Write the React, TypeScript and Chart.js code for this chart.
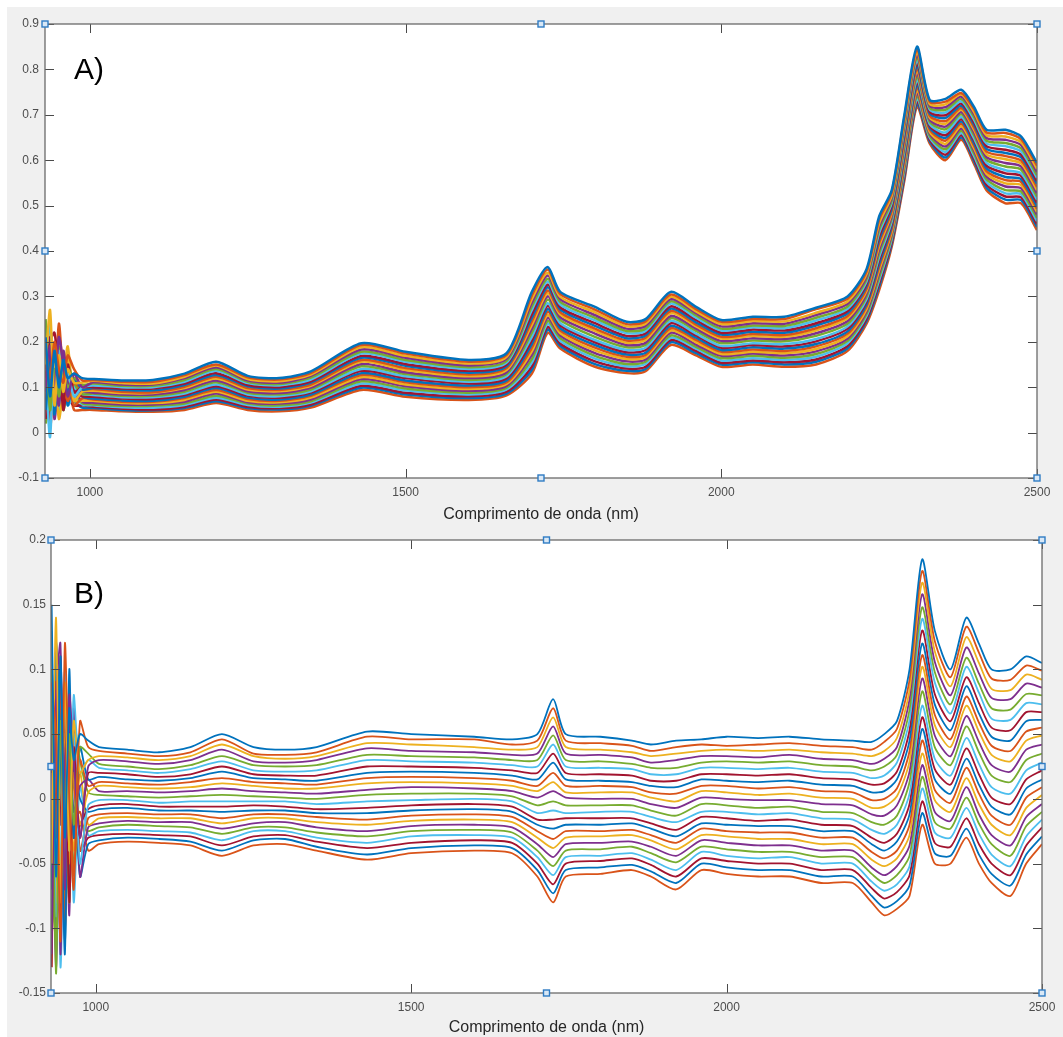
import React, { useEffect, useRef } from "react";
import { Chart, registerables } from "chart.js";

Chart.register(...registerables);

const FONT = '"Liberation Sans", Arial, Helvetica, sans-serif';
const X_TITLE = "Comprimento de onda (nm)";
const X_MIN = 929;
const X_MAX = 2500;
const X_TICKS = [1000, 1500, 2000, 2500];
const A_Y_TICKS = [-0.1, 0, 0.1, 0.2, 0.3, 0.4, 0.5, 0.6, 0.7, 0.8, 0.9];
const B_Y_TICKS = [-0.15, -0.1, -0.05, 0, 0.05, 0.1, 0.15, 0.2];
const MATLAB_COLORS = ["#0072BD", "#D95319", "#EDB120", "#7E2F8E", "#77AC30", "#4DBEEE", "#A2142F"];

// wavelengths (nm) at which the spectra were read
const WAVELENGTH = [
  930, 937, 944, 951, 958, 965, 975, 988,
  1005, 1050, 1100, 1150, 1200, 1250, 1300, 1350,
  1430, 1500, 1600, 1660, 1700, 1725, 1745, 1800,
  1850, 1880, 1920, 1960, 2000, 2050, 2100, 2150,
  2200, 2230, 2250, 2270, 2290, 2310, 2330, 2355,
  2380, 2400, 2420, 2450, 2475, 2500,
];

// Panel A: raw absorbance spectra
const A0 = [0.21,0.08,0.18,0.10,0.16,0.12,0.13,0.12, 0.118,0.115,0.116,0.130,0.156,0.125,0.120,0.135, 0.197,0.178,0.160,0.175,0.310,0.365,0.310,0.277, 0.244,0.250,0.310,0.277,0.248,0.255,0.255,0.275, 0.300,0.360,0.476,0.534,0.700,0.850,0.733,0.735, 0.755,0.718,0.667,0.667,0.652,0.594];
const AH0 = [0.19,0.12,0.20,0.14,0.11,0.17,0.14,0.115, 0.116,0.112,0.112,0.127,0.150,0.122,0.117,0.131, 0.193,0.174,0.156,0.171,0.302,0.359,0.305,0.271, 0.239,0.245,0.304,0.272,0.244,0.250,0.250,0.272, 0.295,0.355,0.469,0.529,0.694,0.844,0.729,0.729, 0.748,0.713,0.661,0.660,0.646,0.588];
const A1 = [0.15,0.27,0.06,0.17,0.09,0.14,0.11,0.11, 0.114,0.109,0.108,0.123,0.148,0.118,0.113,0.128, 0.188,0.169,0.152,0.167,0.294,0.352,0.299,0.265, 0.234,0.240,0.299,0.267,0.239,0.246,0.245,0.264, 0.289,0.349,0.461,0.523,0.687,0.838,0.724,0.723, 0.745,0.707,0.655,0.652,0.639,0.581];
const AH1 = [0.10,0.19,0.09,0.21,0.15,0.08,0.13,0.10, 0.111,0.106,0.106,0.120,0.144,0.115,0.110,0.125, 0.183,0.165,0.148,0.163,0.286,0.346,0.294,0.259, 0.229,0.235,0.294,0.263,0.234,0.241,0.240,0.259, 0.284,0.344,0.454,0.518,0.681,0.832,0.720,0.717, 0.740,0.702,0.649,0.645,0.633,0.574];
const A2 = [0.25,0.05,0.14,0.08,0.13,0.10,0.12,0.105, 0.108,0.103,0.103,0.116,0.140,0.112,0.107,0.121, 0.178,0.160,0.144,0.158,0.278,0.339,0.288,0.253, 0.224,0.229,0.289,0.258,0.229,0.236,0.235,0.253, 0.278,0.338,0.447,0.512,0.674,0.826,0.716,0.711, 0.735,0.696,0.643,0.638,0.626,0.567];
const AH2 = [0.17,0.24,0.11,0.18,0.10,0.13,0.08,0.10, 0.104,0.100,0.100,0.112,0.136,0.109,0.104,0.117, 0.174,0.156,0.140,0.154,0.270,0.333,0.282,0.247, 0.219,0.224,0.284,0.253,0.225,0.232,0.230,0.247, 0.273,0.333,0.440,0.507,0.668,0.820,0.712,0.705, 0.730,0.690,0.637,0.631,0.619,0.561];
const A3 = [0.12,0.20,0.22,0.13,0.07,0.15,0.09,0.10, 0.100,0.097,0.097,0.108,0.131,0.105,0.100,0.113, 0.169,0.151,0.136,0.150,0.261,0.326,0.276,0.241, 0.213,0.219,0.278,0.248,0.220,0.227,0.225,0.241, 0.268,0.328,0.432,0.501,0.661,0.814,0.707,0.699, 0.725,0.684,0.631,0.623,0.612,0.554];
const AH3 = [0.05,0.15,0.17,0.10,0.16,0.09,0.12,0.095, 0.098,0.094,0.093,0.105,0.127,0.102,0.097,0.110, 0.165,0.147,0.132,0.146,0.253,0.320,0.271,0.235, 0.208,0.214,0.273,0.243,0.216,0.222,0.220,0.236, 0.263,0.323,0.425,0.495,0.655,0.808,0.703,0.693, 0.720,0.679,0.625,0.616,0.606,0.548];
const A4 = [0.18,0.10,0.09,0.24,0.12,0.07,0.11,0.095, 0.096,0.090,0.089,0.101,0.123,0.098,0.094,0.106, 0.160,0.142,0.128,0.142,0.245,0.313,0.265,0.229, 0.203,0.209,0.268,0.238,0.211,0.217,0.215,0.230, 0.257,0.317,0.418,0.489,0.648,0.802,0.698,0.686, 0.715,0.673,0.619,0.609,0.599,0.541];
const AH4 = [0.22,0.06,0.15,0.13,0.09,0.16,0.07,0.09, 0.092,0.087,0.087,0.098,0.119,0.095,0.091,0.103, 0.156,0.138,0.124,0.138,0.237,0.307,0.260,0.224, 0.198,0.204,0.263,0.234,0.207,0.213,0.211,0.225, 0.252,0.312,0.411,0.484,0.642,0.797,0.694,0.680, 0.711,0.668,0.613,0.602,0.593,0.534];
const A5 = [0.09,0.17,0.12,0.06,0.18,0.11,0.08,0.09, 0.088,0.084,0.084,0.094,0.115,0.091,0.087,0.099, 0.151,0.133,0.120,0.133,0.229,0.300,0.254,0.218, 0.193,0.198,0.257,0.229,0.202,0.208,0.206,0.219, 0.246,0.306,0.403,0.478,0.635,0.791,0.690,0.674, 0.706,0.662,0.607,0.594,0.586,0.527];
const AH5 = [0.13,0.09,0.16,0.08,0.13,0.15,0.11,0.085, 0.086,0.081,0.081,0.090,0.111,0.088,0.084,0.095, 0.146,0.129,0.116,0.129,0.220,0.293,0.248,0.211, 0.188,0.193,0.252,0.224,0.197,0.203,0.201,0.213, 0.240,0.300,0.395,0.472,0.628,0.784,0.685,0.668, 0.701,0.656,0.601,0.586,0.579,0.520];
const A6 = [0.14,-0.01,0.19,0.11,0.08,0.13,0.10,0.085, 0.083,0.078,0.078,0.086,0.106,0.084,0.080,0.091, 0.140,0.124,0.112,0.124,0.211,0.285,0.241,0.204, 0.182,0.187,0.246,0.218,0.191,0.197,0.195,0.206, 0.234,0.294,0.387,0.466,0.621,0.777,0.680,0.661, 0.695,0.649,0.594,0.578,0.571,0.513];
const AH6 = [0.03,0.21,0.07,0.17,0.05,0.10,0.09,0.08, 0.079,0.075,0.074,0.083,0.102,0.081,0.077,0.088, 0.136,0.120,0.108,0.120,0.203,0.279,0.236,0.199, 0.177,0.182,0.241,0.214,0.187,0.193,0.190,0.201, 0.229,0.289,0.380,0.461,0.615,0.772,0.676,0.655, 0.690,0.644,0.588,0.571,0.565,0.506];
const A7 = [0.06,0.13,0.04,0.15,0.14,0.06,0.12,0.08, 0.075,0.071,0.070,0.079,0.098,0.077,0.073,0.084, 0.131,0.115,0.104,0.115,0.195,0.272,0.230,0.193, 0.172,0.176,0.235,0.209,0.182,0.188,0.185,0.195, 0.223,0.283,0.372,0.455,0.608,0.766,0.672,0.649, 0.685,0.638,0.582,0.563,0.558,0.499];
const AH7 = [0.13,0.01,0.12,0.08,0.17,0.12,0.06,0.075, 0.073,0.068,0.068,0.076,0.094,0.074,0.070,0.081, 0.127,0.111,0.100,0.111,0.187,0.266,0.225,0.187, 0.167,0.171,0.230,0.204,0.178,0.183,0.180,0.190, 0.218,0.278,0.365,0.449,0.602,0.760,0.668,0.643, 0.680,0.633,0.576,0.556,0.552,0.493];
const A8 = [0.11,0.22,0.16,0.03,0.10,0.19,0.07,0.07, 0.070,0.065,0.065,0.072,0.090,0.070,0.067,0.077, 0.122,0.106,0.096,0.107,0.179,0.259,0.219,0.181, 0.162,0.166,0.225,0.199,0.173,0.178,0.175,0.184, 0.212,0.272,0.358,0.443,0.595,0.754,0.663,0.636, 0.675,0.627,0.570,0.549,0.545,0.486];
const AH8 = [0.07,0.16,0.03,0.11,0.07,0.14,0.10,0.068, 0.066,0.062,0.062,0.068,0.086,0.067,0.064,0.073, 0.118,0.102,0.092,0.103,0.171,0.253,0.214,0.175, 0.157,0.161,0.220,0.194,0.169,0.174,0.170,0.179, 0.207,0.267,0.351,0.438,0.589,0.748,0.659,0.630, 0.670,0.622,0.564,0.542,0.538,0.480];
const A9 = [0.02,0.07,0.10,0.19,0.05,0.09,0.09,0.065, 0.062,0.059,0.059,0.064,0.081,0.064,0.060,0.069, 0.113,0.097,0.088,0.099,0.162,0.246,0.208,0.169, 0.151,0.156,0.214,0.189,0.164,0.169,0.165,0.173, 0.202,0.262,0.343,0.432,0.582,0.742,0.654,0.624, 0.665,0.616,0.558,0.534,0.531,0.473];
const AH9 = [0.12,0.09,0.18,0.05,0.12,0.06,0.08,0.062, 0.060,0.056,0.055,0.061,0.077,0.061,0.057,0.066, 0.108,0.093,0.084,0.095,0.154,0.240,0.202,0.163, 0.146,0.151,0.209,0.185,0.159,0.164,0.160,0.167, 0.197,0.257,0.336,0.427,0.576,0.736,0.650,0.618, 0.660,0.610,0.552,0.527,0.525,0.466];
const A10 = [0.16,0.03,0.13,0.09,0.15,0.08,0.06,0.06, 0.057,0.053,0.051,0.057,0.073,0.057,0.054,0.062, 0.103,0.088,0.080,0.090,0.146,0.233,0.196,0.157, 0.141,0.145,0.204,0.180,0.154,0.159,0.155,0.161, 0.191,0.251,0.329,0.421,0.569,0.730,0.646,0.612, 0.655,0.604,0.546,0.520,0.518,0.459];
const AH10 = [0.04,0.11,0.14,0.16,0.08,0.13,0.07,0.055, 0.054,0.050,0.049,0.054,0.069,0.054,0.051,0.059, 0.099,0.084,0.076,0.086,0.138,0.227,0.191,0.151, 0.136,0.140,0.199,0.175,0.150,0.155,0.150,0.156, 0.186,0.246,0.322,0.416,0.563,0.724,0.642,0.606, 0.650,0.599,0.540,0.513,0.512,0.453];
const A11 = [0.08,0.15,0.07,0.12,0.06,0.11,0.05,0.05, 0.050,0.047,0.046,0.050,0.065,0.050,0.047,0.055, 0.094,0.079,0.072,0.082,0.130,0.220,0.185,0.145, 0.131,0.135,0.193,0.170,0.145,0.150,0.145,0.150, 0.180,0.240,0.314,0.410,0.556,0.718,0.637,0.600, 0.645,0.593,0.534,0.505,0.505,0.446];

// Panel B: pre-processed spectra
const B0 = [0.15,-0.06,0.11,-0.03,0.07,0.03,0.05,0.045, 0.040,0.038,0.036,0.040,0.050,0.040,0.038,0.040, 0.052,0.050,0.048,0.046,0.050,0.077,0.050,0.048, 0.045,0.042,0.045,0.046,0.048,0.047,0.048,0.046, 0.045,0.044,0.050,0.060,0.100,0.185,0.130,0.100, 0.140,0.120,0.100,0.100,0.110,0.105];
const BH0 = [0.09,0.05,-0.11,0.12,0.00,-0.07,0.06,0.04, 0.037,0.035,0.033,0.036,0.046,0.035,0.034,0.036, 0.048,0.046,0.046,0.042,0.045,0.070,0.045,0.043, 0.041,0.037,0.040,0.042,0.041,0.042,0.043,0.041, 0.040,0.038,0.044,0.054,0.092,0.176,0.122,0.094, 0.133,0.113,0.093,0.092,0.103,0.099];
const B1 = [-0.05,0.14,-0.08,0.09,-0.04,0.06,0.02,0.03, 0.033,0.032,0.030,0.033,0.042,0.033,0.031,0.033, 0.043,0.042,0.040,0.038,0.040,0.063,0.040,0.038, 0.036,0.033,0.035,0.037,0.038,0.037,0.038,0.036, 0.035,0.033,0.037,0.047,0.084,0.167,0.114,0.087, 0.125,0.105,0.085,0.084,0.096,0.092];
const BH1 = [-0.12,0.08,0.12,-0.07,0.08,0.03,-0.03,0.025, 0.030,0.029,0.027,0.030,0.038,0.029,0.028,0.030, 0.039,0.037,0.036,0.034,0.035,0.056,0.035,0.034, 0.032,0.028,0.030,0.033,0.033,0.032,0.034,0.031, 0.030,0.027,0.031,0.040,0.077,0.158,0.106,0.080, 0.117,0.097,0.078,0.077,0.089,0.086];
const B2 = [0.10,-0.135,0.06,-0.06,0.05,-0.02,0.04,0.035, 0.027,0.025,0.023,0.026,0.033,0.026,0.025,0.026, 0.034,0.033,0.032,0.030,0.030,0.049,0.030,0.029, 0.027,0.024,0.024,0.028,0.029,0.028,0.029,0.026, 0.025,0.022,0.025,0.034,0.069,0.148,0.098,0.073, 0.109,0.089,0.070,0.069,0.081,0.080];
const BH2 = [0.13,-0.09,-0.05,0.10,-0.04,0.08,0.02,0.03, 0.024,0.022,0.020,0.023,0.029,0.022,0.021,0.022, 0.030,0.029,0.028,0.026,0.025,0.042,0.025,0.024, 0.023,0.019,0.019,0.024,0.024,0.023,0.024,0.021, 0.020,0.016,0.018,0.028,0.061,0.139,0.090,0.066, 0.102,0.082,0.062,0.061,0.074,0.073];
const B3 = [-0.13,0.09,-0.02,0.07,-0.08,0.04,-0.03,0.02, 0.020,0.019,0.017,0.019,0.025,0.019,0.018,0.018, 0.025,0.025,0.024,0.022,0.020,0.035,0.020,0.019, 0.018,0.014,0.014,0.019,0.019,0.018,0.019,0.016, 0.015,0.011,0.012,0.021,0.053,0.130,0.081,0.060, 0.094,0.074,0.055,0.053,0.067,0.067];
const BH3 = [-0.07,0.12,0.04,-0.12,0.10,-0.03,0.04,0.015, 0.017,0.015,0.014,0.016,0.021,0.016,0.015,0.014, 0.020,0.021,0.020,0.018,0.015,0.028,0.015,0.014, 0.013,0.010,0.009,0.015,0.014,0.013,0.014,0.011, 0.010,0.005,0.006,0.015,0.045,0.120,0.073,0.053, 0.087,0.066,0.048,0.045,0.060,0.061];
const B4 = [0.06,-0.03,0.09,-0.10,0.03,-0.06,0.03,0.01, 0.013,0.012,0.011,0.013,0.016,0.013,0.012,0.011, 0.016,0.017,0.016,0.014,0.010,0.020,0.010,0.010, 0.009,0.005,0.004,0.010,0.010,0.008,0.009,0.006, 0.005,-0.001,0.000,0.008,0.037,0.111,0.065,0.046, 0.079,0.059,0.041,0.037,0.052,0.055];
const BH4 = [0.11,-0.08,0.01,0.05,-0.05,0.02,-0.02,0.005, 0.010,0.009,0.008,0.009,0.012,0.010,0.008,0.008, 0.012,0.013,0.012,0.010,0.006,0.013,0.005,0.005, 0.005,0.001,-0.002,0.006,0.005,0.003,0.004,0.001, 0.000,-0.007,-0.006,0.002,0.029,0.102,0.057,0.040, 0.072,0.052,0.034,0.029,0.045,0.049];
const B5 = [0.02,0.11,-0.12,0.04,0.06,-0.01,0.01,0.015, 0.006,0.006,0.005,0.006,0.008,0.006,0.005,0.004, 0.007,0.009,0.008,0.006,0.001,0.006,0.001,0.000, 0.000,-0.004,-0.007,0.001,0.000,-0.001,-0.001,-0.004, -0.005,-0.012,-0.013,-0.005,0.021,0.093,0.049,0.033, 0.064,0.044,0.026,0.021,0.038,0.042];
const BH5 = [-0.06,-0.11,0.07,0.01,-0.08,0.06,0.03,0.005, 0.003,0.002,0.001,0.002,0.003,0.002,0.001,0.000, 0.003,0.004,0.004,0.002,-0.005,-0.002,-0.005,-0.005, -0.005,-0.009,-0.013,-0.004,-0.005,-0.007,-0.006,-0.010, -0.011,-0.018,-0.020,-0.013,0.013,0.083,0.040,0.026, 0.056,0.036,0.018,0.013,0.030,0.035];
const B6 = [-0.09,0.05,0.03,-0.05,0.01,0.05,-0.05,-0.005, -0.001,-0.001,-0.003,-0.002,-0.002,-0.002,-0.002,-0.004, -0.002,-0.001,0.000,-0.002,-0.011,-0.009,-0.011,-0.010, -0.010,-0.014,-0.018,-0.010,-0.010,-0.012,-0.011,-0.015, -0.016,-0.024,-0.027,-0.020,0.004,0.072,0.031,0.018, 0.047,0.027,0.009,0.004,0.022,0.028];
const BH6 = [0.09,0.02,-0.09,0.06,0.05,-0.03,-0.02,-0.008, -0.005,-0.004,-0.006,-0.006,-0.006,-0.005,-0.006,-0.008, -0.007,-0.005,-0.004,-0.006,-0.016,-0.016,-0.015,-0.015, -0.015,-0.019,-0.024,-0.014,-0.015,-0.017,-0.016,-0.020, -0.021,-0.030,-0.034,-0.027,-0.004,0.063,0.023,0.011, 0.039,0.019,0.001,-0.004,0.015,0.022];
const B7 = [0.12,-0.10,0.08,0.02,-0.06,0.03,0.00,-0.01, -0.008,-0.007,-0.009,-0.009,-0.010,-0.009,-0.009,-0.011, -0.011,-0.009,-0.008,-0.010,-0.020,-0.023,-0.020,-0.020, -0.019,-0.023,-0.029,-0.019,-0.020,-0.021,-0.021,-0.025, -0.025,-0.035,-0.040,-0.033,-0.012,0.054,0.015,0.004, 0.031,0.011,-0.006,-0.012,0.008,0.015];
const BH7 = [-0.13,0.04,0.11,-0.06,0.02,0.01,-0.04,-0.015, -0.012,-0.011,-0.012,-0.012,-0.015,-0.012,-0.012,-0.014, -0.016,-0.013,-0.012,-0.014,-0.025,-0.031,-0.025,-0.025, -0.024,-0.028,-0.034,-0.023,-0.025,-0.026,-0.026,-0.030, -0.030,-0.041,-0.046,-0.040,-0.020,0.045,0.007,-0.003, 0.024,0.004,-0.013,-0.020,0.001,0.009];
const B8 = [-0.02,0.07,-0.07,0.09,0.04,-0.04,0.02,-0.02, -0.015,-0.014,-0.015,-0.015,-0.019,-0.015,-0.015,-0.018, -0.020,-0.017,-0.016,-0.018,-0.030,-0.038,-0.030,-0.029, -0.028,-0.032,-0.039,-0.028,-0.029,-0.031,-0.031,-0.035, -0.035,-0.047,-0.052,-0.046,-0.028,0.035,-0.001,-0.010, 0.016,-0.004,-0.020,-0.028,-0.007,0.003];
const BH8 = [0.05,-0.13,0.02,0.03,-0.09,0.07,-0.06,-0.022, -0.019,-0.017,-0.018,-0.018,-0.023,-0.019,-0.018,-0.022, -0.025,-0.021,-0.020,-0.022,-0.035,-0.045,-0.035,-0.034, -0.033,-0.037,-0.044,-0.032,-0.034,-0.036,-0.036,-0.040, -0.040,-0.053,-0.059,-0.052,-0.036,0.026,-0.010,-0.017, 0.009,-0.012,-0.028,-0.036,-0.014,-0.004];
const B9 = [0.08,-0.12,0.05,-0.08,0.02,-0.05,-0.02,-0.025, -0.022,-0.020,-0.021,-0.022,-0.027,-0.022,-0.022,-0.026, -0.029,-0.025,-0.024,-0.026,-0.040,-0.052,-0.040,-0.039, -0.037,-0.042,-0.049,-0.037,-0.039,-0.041,-0.041,-0.045, -0.045,-0.058,-0.065,-0.059,-0.044,0.017,-0.018,-0.023, 0.001,-0.019,-0.035,-0.044,-0.021,-0.010];
const BH9 = [-0.04,0.08,-0.13,0.00,0.06,-0.08,0.01,-0.028, -0.025,-0.024,-0.025,-0.026,-0.032,-0.025,-0.025,-0.030, -0.034,-0.029,-0.028,-0.030,-0.045,-0.059,-0.045,-0.044, -0.042,-0.047,-0.055,-0.041,-0.044,-0.046,-0.045,-0.050, -0.050,-0.064,-0.071,-0.066,-0.052,0.008,-0.026,-0.030, -0.007,-0.027,-0.043,-0.052,-0.029,-0.016];
const B10 = [-0.11,0.01,0.10,-0.02,-0.07,0.04,-0.04,-0.03, -0.028,-0.027,-0.028,-0.029,-0.036,-0.029,-0.028,-0.033, -0.038,-0.034,-0.032,-0.034,-0.050,-0.066,-0.050,-0.048, -0.046,-0.051,-0.060,-0.046,-0.048,-0.050,-0.050,-0.055, -0.055,-0.069,-0.077,-0.072,-0.059,-0.002,-0.034,-0.037, -0.015,-0.035,-0.050,-0.059,-0.036,-0.022];
const BH10 = [0.12,-0.07,0.04,-0.11,0.03,0.02,-0.06,-0.035, -0.032,-0.030,-0.031,-0.033,-0.040,-0.032,-0.031,-0.037, -0.043,-0.038,-0.036,-0.038,-0.055,-0.073,-0.055,-0.053, -0.051,-0.056,-0.065,-0.050,-0.053,-0.055,-0.055,-0.060, -0.060,-0.075,-0.084,-0.079,-0.067,-0.011,-0.042,-0.044, -0.023,-0.043,-0.058,-0.067,-0.043,-0.029];
const B11 = [0.04,-0.04,-0.09,0.06,-0.03,-0.02,-0.01,-0.04, -0.035,-0.033,-0.034,-0.036,-0.044,-0.036,-0.035,-0.040, -0.047,-0.042,-0.040,-0.042,-0.060,-0.080,-0.060,-0.058, -0.055,-0.060,-0.070,-0.055,-0.058,-0.060,-0.060,-0.065, -0.065,-0.080,-0.090,-0.085,-0.075,-0.020,-0.050,-0.050, -0.030,-0.050,-0.065,-0.075,-0.050,-0.035];

const SERIES_A = [A0, AH0, A1, AH1, A2, AH2, A3, AH3, A4, AH4, A5, AH5, A6, AH6, A7, AH7, A8, AH8, A9, AH9, A10, AH10, A11];
const SERIES_B = [B0, BH0, B1, BH1, B2, BH2, B3, BH3, B4, BH4, B5, BH5, B6, BH6, B7, BH7, B8, BH8, B9, BH9, B10, BH10, B11];

type PanelProps = {
  series: number[][];
  yTicks: number[];
  yMin: number;
  yMax: number;
  label: string;
  labelX: number;
  labelY: number;
  top: number;
  height: number;
  padTop: number;
  padRight: number;
  yWidth: number;
  xHeight: number;
  yPad: number;
  titlePadBottom: number;
  lineWidth: number;
};

function makeFramePlugin(p: PanelProps) {
  return {
    id: "matlabFrame",
    beforeDatasetsDraw(chart: any) {
      const { ctx, chartArea } = chart;
      ctx.save();
      ctx.fillStyle = "#ffffff";
      ctx.fillRect(chartArea.left, chartArea.top, chartArea.right - chartArea.left, chartArea.bottom - chartArea.top);
      ctx.restore();
    },
    afterDatasetsDraw(chart: any) {
      const { ctx, chartArea } = chart;
      const { left, right, top, bottom } = chartArea;
      const xs = chart.scales.x;
      const ys = chart.scales.y;
      const TL = 9;
      ctx.save();
      ctx.strokeStyle = "#4a4a4a";
      ctx.lineWidth = 1;
      ctx.beginPath();
      xs.ticks.forEach((t: any) => {
        const px = Math.round(xs.getPixelForValue(t.value)) + 0.5;
        ctx.moveTo(px, bottom);
        ctx.lineTo(px, bottom - TL);
        ctx.moveTo(px, top);
        ctx.lineTo(px, top + TL);
      });
      ys.ticks.forEach((t: any) => {
        const py = Math.round(ys.getPixelForValue(t.value)) + 0.5;
        ctx.moveTo(left, py);
        ctx.lineTo(left + TL, py);
        ctx.moveTo(right, py);
        ctx.lineTo(right - TL, py);
      });
      ctx.stroke();
      ctx.strokeStyle = "#6a6a6a";
      ctx.lineWidth = 1.3;
      ctx.strokeRect(left, top, right - left, bottom - top);
      // panel letter
      ctx.fillStyle = "#000000";
      ctx.font = '30px "Liberation Sans", Arial, sans-serif';
      ctx.textBaseline = "middle";
      ctx.textAlign = "left";
      ctx.fillText(p.label, p.labelX, p.labelY);
      // selection handles
      const cx = (left + right) / 2;
      const cy = (top + bottom) / 2;
      const pts = [
        [left, top], [cx, top], [right, top],
        [left, cy], [right, cy],
        [left, bottom], [cx, bottom], [right, bottom],
      ];
      ctx.lineWidth = 1.4;
      ctx.strokeStyle = "#2f7cc4";
      ctx.fillStyle = "#d9e8f6";
      pts.forEach(([hx, hy]) => {
        ctx.fillRect(hx - 3, hy - 3, 6, 6);
        ctx.strokeRect(hx - 3, hy - 3, 6, 6);
      });
      ctx.restore();
    },
  };
}

function Panel(p: PanelProps) {
  const ref = useRef<HTMLCanvasElement>(null);
  useEffect(() => {
    const datasets = p.series.map((s, k) => ({
      data: WAVELENGTH.map((w, i) => ({ x: w, y: s[i] })),
      borderColor: MATLAB_COLORS[k % MATLAB_COLORS.length],
      backgroundColor: MATLAB_COLORS[k % MATLAB_COLORS.length],
      borderWidth: p.lineWidth,
      pointRadius: 0,
      tension: 0.25,
      fill: false,
    }));
    const chart = new Chart(ref.current as HTMLCanvasElement, {
      type: "line",
      data: { datasets },
      options: {
        animation: false,
        responsive: false,
        events: [],
        layout: { padding: { left: 0, top: p.padTop, right: p.padRight, bottom: 0 } },
        plugins: { legend: { display: false }, tooltip: { enabled: false } },
        scales: {
          x: {
            type: "linear",
            min: X_MIN,
            max: X_MAX,
            grid: { display: false, drawTicks: false },
            border: { display: false },
            afterBuildTicks: (s: any) => {
              s.ticks = X_TICKS.map((v) => ({ value: v }));
            },
            afterFit: (s: any) => {
              s.height = p.xHeight;
            },
            ticks: {
              padding: 7,
              color: "#4d4d4d",
              font: { family: FONT, size: 12 },
              maxRotation: 0,
              autoSkip: false,
              callback: (v: any) => String(v),
            },
            title: {
              display: true,
              text: X_TITLE,
              color: "#262626",
              font: { family: FONT, size: 16 },
              padding: { top: 0, bottom: p.titlePadBottom },
            },
          },
          y: {
            type: "linear",
            min: p.yMin,
            max: p.yMax,
            grid: { display: false, drawTicks: false },
            border: { display: false },
            afterBuildTicks: (s: any) => {
              s.ticks = p.yTicks.map((v) => ({ value: v }));
            },
            afterFit: (s: any) => {
              s.width = p.yWidth;
            },
            ticks: {
              padding: p.yPad,
              color: "#4d4d4d",
              font: { family: FONT, size: 12 },
              autoSkip: false,
              callback: (v: any) => String(Math.round(Number(v) * 100) / 100),
            },
          },
        },
      },
      plugins: [makeFramePlugin(p)],
    } as any);
    return () => chart.destroy();
  }, []);
  return (
    <canvas
      ref={ref}
      width={1056}
      height={p.height}
      style={{ position: "absolute", left: 0, top: p.top, width: 1056, height: p.height }}
    />
  );
}

export default function App() {
  return (
    <div
      style={{
        position: "fixed",
        left: 7,
        top: 7,
        width: 1056,
        height: 1030,
        background: "#f0f0f0",
        overflow: "hidden",
      }}
    >
      <Panel
        series={SERIES_A}
        yTicks={A_Y_TICKS}
        yMin={-0.1}
        yMax={0.9}
        label="A)"
        labelX={67}
        labelY={64}
        top={0}
        height={520}
        padTop={17}
        padRight={26}
        yWidth={38}
        xHeight={49}
        yPad={6}
        titlePadBottom={3}
        lineWidth={2.5}
      />
      <Panel
        series={SERIES_B}
        yTicks={B_Y_TICKS}
        yMin={-0.15}
        yMax={0.2}
        label="B)"
        labelX={67}
        labelY={78}
        top={510}
        height={520}
        padTop={23}
        padRight={21}
        yWidth={44}
        xHeight={44}
        yPad={5}
        titlePadBottom={0}
        lineWidth={1.8}
      />
    </div>
  );
}
